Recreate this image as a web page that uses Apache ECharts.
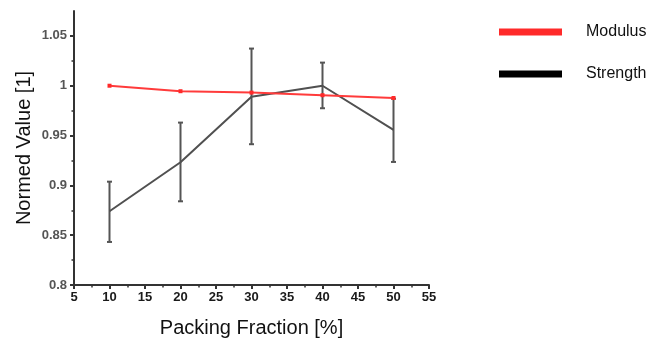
<!DOCTYPE html>
<html>
<head>
<meta charset="utf-8">
<script src="https://cdn.jsdelivr.net/npm/echarts@6/dist/echarts.min.js"></script>
<style>
  html, body { margin: 0; padding: 0; background: #fff; }
  #chart { width: 661px; height: 340px; }
</style>
</head>
<body>
<div id="chart"></div>
<script>
// Packing fraction (%) for each sample
const packing = [10, 20, 30, 40, 50];
// Normalised modulus
const modulus = [1.0, 0.9945, 0.9931, 0.9905, 0.9877];
// Normalised strength with lower / upper error limits
const strength = [0.874, 0.9232, 0.989, 1.0, 0.9556];
const strengthLow = [0.8432, 0.884, 0.9413, 0.9774, 0.9235];
const strengthHigh = [0.9037, 0.963, 1.0373, 1.0232, 0.987];
// Axis ticks
const yMajor = [0.8, 0.85, 0.9, 0.95, 1.0, 1.05];
const yMinor = [0.825, 0.875, 0.925, 0.975, 1.025];

const chart = echarts.init(document.getElementById('chart'), null, { renderer: 'canvas' });

const axisColor = '#333';
const fontFam = 'Liberation Sans, Arial, sans-serif';

const errData = packing.map((x, i) => [x, strengthLow[i], strengthHigh[i]]);

chart.setOption({
  animation: false,
  backgroundColor: '#fff',
  grid: { left: 74, right: 232, top: 11, bottom: 55, outerBoundsMode: 'none' },
  legend: {
    orient: 'vertical',
    left: 499,
    top: 22,
    padding: 0,
    icon: 'rect',
    itemWidth: 63,
    itemHeight: 7,
    itemGap: 22,
    textStyle: {
      fontFamily: fontFam,
      fontSize: 16,
      color: '#111',
      lineHeight: 20,
      padding: [0, 0, 0, 19]
    },
    data: ['Modulus', 'Strength']
  },
  xAxis: {
    type: 'value',
    min: 5, max: 55, interval: 5,
    name: 'Packing Fraction [%]',
    nameLocation: 'middle',
    nameGap: 33,
    nameTextStyle: { fontFamily: fontFam, fontSize: 20, color: '#111' },
    axisLine: { onZero: false, lineStyle: { color: axisColor, width: 2 } },
    axisTick: { length: 4, lineStyle: { color: axisColor, width: 2 } },
    minorTick: { show: true, splitNumber: 2, length: 2.5, lineStyle: { color: axisColor, width: 1.5 } },
    axisLabel: { fontFamily: fontFam, fontSize: 13, fontWeight: 'bold', color: '#1a1a1a', margin: 6 },
    splitLine: { show: false }
  },
  yAxis: [{
    type: 'value',
    min: 0.8, max: 1.075,
    name: 'Normed Value [1]',
    nameLocation: 'middle',
    nameGap: 40,
    nameMoveOverlap: false,
    nameTextStyle: { fontFamily: fontFam, fontSize: 20, color: '#111' },
    axisLine: { onZero: false, lineStyle: { color: axisColor, width: 2 } },
    axisTick: { length: 4, customValues: yMajor, lineStyle: { color: axisColor, width: 2 } },
    axisLabel: { customValues: yMajor, fontFamily: fontFam, fontSize: 13, fontWeight: 'bold', color: '#555', margin: 7 },
    splitLine: { show: false }
  }, {
    // minor ticks only
    type: 'value',
    position: 'left',
    min: 0.8, max: 1.075,
    axisLine: { show: false, onZero: false },
    axisTick: { length: 2.5, customValues: yMinor, lineStyle: { color: axisColor, width: 1.5 } },
    axisLabel: { show: false },
    splitLine: { show: false }
  }],
  series: [
    {
      name: 'Strength',
      type: 'line',
      data: packing.map((x, i) => [x, strength[i]]),
      symbol: 'none',
      itemStyle: { color: '#000' },
      lineStyle: { color: '#505050', width: 2 },
      z: 3
    },
    {
      name: 'Strength error',
      type: 'custom',
      data: errData,
      renderItem: function (params, api) {
        const x = api.value(0);
        const lo = api.coord([x, api.value(1)]);
        const hi = api.coord([x, api.value(2)]);
        const half = 2.5;
        const style = { stroke: '#555', lineWidth: 2 };
        return {
          type: 'group',
          children: [
            { type: 'line', shape: { x1: lo[0], y1: lo[1], x2: hi[0], y2: hi[1] }, style },
            { type: 'line', shape: { x1: lo[0] - half, y1: lo[1], x2: lo[0] + half, y2: lo[1] }, style },
            { type: 'line', shape: { x1: hi[0] - half, y1: hi[1], x2: hi[0] + half, y2: hi[1] }, style }
          ]
        };
      },
      z: 2
    },
    {
      name: 'Modulus',
      type: 'line',
      data: packing.map((x, i) => [x, modulus[i]]),
      symbol: 'rect',
      symbolSize: 4,
      itemStyle: { color: '#ff2a2a' },
      lineStyle: { color: '#ff3b3b', width: 2 },
      z: 4
    }
  ]
});
</script>
</body>
</html>
